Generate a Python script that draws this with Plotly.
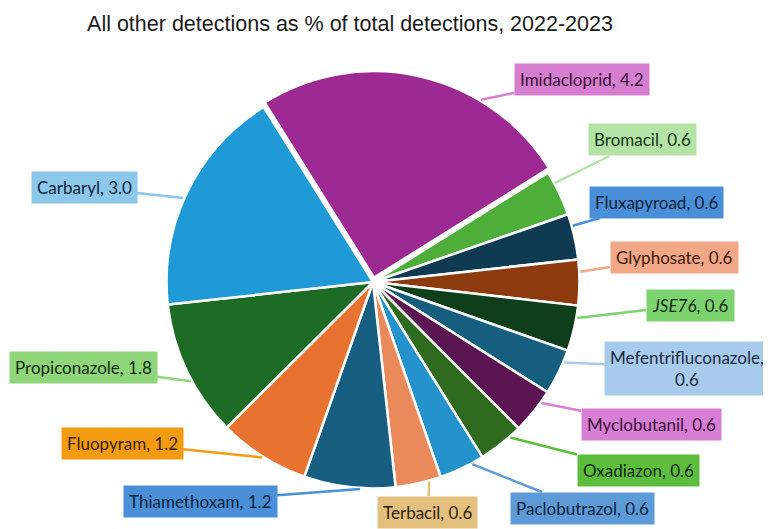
import math
import plotly.graph_objects as go

labels = ["Imidacloprid", "Bromacil", "Fluxapyroad", "Glyphosate", "JSE76",
          "Mefentrifluconazole", "Myclobutanil", "Oxadiazon", "Paclobutrazol",
          "Terbacil", "Thiamethoxam", "Fluopyram", "Propiconazole", "Carbaryl"]
values = [4.2, 0.6, 0.6, 0.6, 0.6, 0.6, 0.6, 0.6, 0.6, 0.6, 1.2, 1.2, 1.8, 3.0]
label_texts = ["Imidacloprid, 4.2", "Bromacil, 0.6", "Fluxapyroad, 0.6", "Glyphosate, 0.6",
               "<i>JSE76</i>, 0.6", "Mefentrifluconazole,<br>0.6", "Myclobutanil, 0.6",
               "Oxadiazon, 0.6", "Paclobutrazol, 0.6", "Terbacil, 0.6", "Thiamethoxam, 1.2",
               "Fluopyram, 1.2", "Propiconazole, 1.8", "Carbaryl, 3.0"]
slice_colors = ["#9C2A92", "#4EAE3A", "#0E3A52", "#8C3A0E", "#0F3E1A", "#155E80", "#5B1552",
                "#2F6B1E", "#2593CB", "#EA8A5A", "#185E80", "#E8722F", "#1D6B25", "#1F9AD6"]
box_colors = ["#D67FD0", "#B5E3A6", "#4A90D9", "#F2A886", "#7DD36E", "#A9CBEB", "#D67FD4",
              "#5DBE3E", "#5C9BD8", "#E3C07E", "#4A90D9", "#F39C12", "#8FD67A", "#8CC8EA"]
text_colors = ["#3A1038", "#16331A", "#0E2238", "#3A1A0E", "#102A10", "#1A2A40", "#3A1038",
               "#102A10", "#0E2238", "#2E2410", "#0E2238", "#3A2200", "#102A10", "#0E2238"]
pulls = [0.022] + [0] * 13

# page has an 8px body margin: figure origin sits at (8, 8) on screen
OFF = 8
W, H = 771 - OFF, 529 - OFF
CX, CY, HALF = 373 - OFF, 282 - OFF, 211
ROT = -32
# label box centres (screen px) and leader-tip angle offsets (deg)
box_pos = [(582, 79), (642, 140), (656, 202), (674, 257), (690, 305), (687, 368),
           (651, 424), (638, 470), (582, 508), (428, 512), (200, 501), (122, 443),
           (83, 367), (84, 187)]
tip_off = [18, -3, -3, -3, -3, -3, -3, -3, -3, -3, -3, 0, -3, -2]

fig = go.Figure(go.Pie(
    labels=labels, values=values, sort=False, direction="clockwise", rotation=ROT,
    pull=pulls, textinfo="none", hoverinfo="label+value",
    marker=dict(colors=slice_colors, line=dict(color="white", width=2.5)),
    domain=dict(x=[(CX - HALF) / W, (CX + HALF) / W], y=[1 - (CY + HALF) / H, 1 - (CY - HALF) / H]),
    showlegend=False,
))

R = HALF / (1 + max(pulls))
total = sum(values)
cum = 0.0
annotations = []
for i, v in enumerate(values):
    a0 = ROT + 360 * cum / total
    cum += v
    a1 = ROT + 360 * cum / total
    mid = (a0 + a1) / 2
    rad = math.radians(mid)
    pcx = CX + pulls[i] * R * math.sin(rad)
    pcy = CY - pulls[i] * R * math.cos(rad)
    t = math.radians(mid + tip_off[i])
    tx = pcx + (R + 1) * math.sin(t)
    ty = pcy - (R + 1) * math.cos(t)
    bx, by = box_pos[i][0] - OFF, box_pos[i][1] - OFF
    annotations.append(dict(
        x=tx / W, y=1 - ty / H, xref="paper", yref="paper",
        ax=bx - tx, ay=by - ty, axref="pixel", ayref="pixel",
        text=label_texts[i], showarrow=True, arrowhead=0, arrowwidth=2.5,
        arrowcolor=box_colors[i], bgcolor=box_colors[i], borderpad=5,
        font=dict(family="Lato, Liberation Sans, sans-serif", size=17, color=text_colors[i]),
        align="center",
    ))

fig.update_layout(
    width=W, height=H, margin=dict(l=0, r=0, t=0, b=0),
    paper_bgcolor="white", plot_bgcolor="white",
    title=dict(text="All other detections as % of total detections, 2022-2023",
               x=(350 - OFF) / W, xanchor="center", y=1 - (23 - OFF) / H, yanchor="middle",
               font=dict(family="Liberation Sans Narrow, Liberation Sans, sans-serif", size=21.5, color="#1a1a1a")),
    annotations=annotations,
)

fig.write_html("out.html")
